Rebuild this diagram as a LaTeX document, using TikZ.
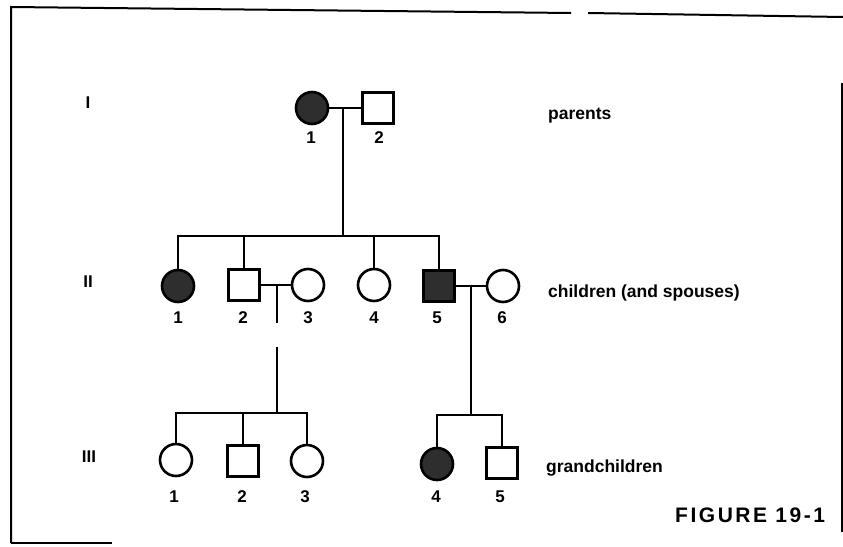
\documentclass[tikz,border=0pt]{standalone}
\usepackage{fontspec}
\setmainfont{Liberation Sans}
\begin{document}
\begin{tikzpicture}[x=1pt,y=-1pt,
  conn/.style={line width=2.6pt},
  person/.style={draw=black,line width=2.6pt,inner sep=0pt},
  fem/.style={person,circle,minimum size=32pt},
  mal/.style={person,rectangle,minimum size=31pt},
  aff/.style={fill=black!82},
  num/.style={anchor=base,inner sep=0pt,font=\bfseries\fontsize{17}{17}\selectfont},
  gen/.style={anchor=center,inner sep=0pt,font=\bfseries\fontsize{17}{17}\selectfont},
  lab/.style={anchor=base west,inner sep=0pt,font=\bfseries\fontsize{17.5}{18}\selectfont},
  frame/.style={line width=2pt}]
\useasboundingbox (0,0) rectangle (843,546);
% frame
\draw[frame] (11,543) -- (11,7) -- (571,13);
\draw[frame] (588,13) -- (843,17);
\draw[frame] (842,83) -- (842,532);
\draw[frame] (11,543) -- (112,543);
% generation labels
\node[gen] (gI) at (88,103) {I};
\node[gen] (gII) at (88,282) {II};
\node[gen] (gIII) at (89,457) {III};
% generation I
\node[fem,aff] (I1) at (312,108) {};
\node[mal] (I2) at (378,108) {};
\node[num] (nI1) at (311,143) {1};
\node[num] (nI2) at (379,143) {2};
\coordinate (mI) at (343,108);
\coordinate (sII) at (343,236);
\draw[conn] (I1) -- (I2);
\draw[conn] (mI) -- (sII);
% generation II
\node[fem,aff] (II1) at (178,286) {};
\node[mal] (II2) at (244,285) {};
\node[fem] (II3) at (308,285) {};
\node[fem] (II4) at (374,285) {};
\node[mal,aff] (II5) at (439,286) {};
\node[fem] (II6) at (503,286) {};
\node[num] (nII1) at (178,323) {1};
\node[num] (nII2) at (243,323) {2};
\node[num] (nII3) at (308,323) {3};
\node[num] (nII4) at (374,323) {4};
\node[num] (nII5) at (437,323) {5};
\node[num] (nII6) at (502,323) {6};
\draw[conn] (II1.north) -- (II1.north |- sII) -- (II5.north |- sII) -- (II5.north);
\draw[conn] (II2.north) -- (II2.north |- sII);
\draw[conn] (II4.north) -- (II4.north |- sII);
\draw[conn] (II2) -- (II3);
\draw[conn] (II5) -- (II6);
\coordinate (mII23) at (277,285);
\coordinate (bII23) at (277,323);
\coordinate (tIII) at (277,347);
\coordinate (sIIIa) at (277,413);
\coordinate (mII56) at (471,286);
\coordinate (sIIIb) at (471,415);
\draw[conn] (mII23) -- (bII23);
\draw[conn] (tIII) -- (sIIIa);
\draw[conn] (mII56) -- (sIIIb);
% generation III
\node[fem] (III1) at (176,460) {};
\node[mal] (III2) at (243,461) {};
\node[fem] (III3) at (307,461) {};
\node[fem,aff] (III4) at (437,464) {};
\node[mal] (III5) at (502,463) {};
\node[num] (nIII1) at (174,502) {1};
\node[num] (nIII2) at (242,502) {2};
\node[num] (nIII3) at (305,502) {3};
\node[num] (nIII4) at (436,502) {4};
\node[num] (nIII5) at (500,502) {5};
\draw[conn] (III1.north) -- (III1.north |- sIIIa) -- (III3.north |- sIIIa) -- (III3.north);
\draw[conn] (III2.north) -- (III2.north |- sIIIa);
\draw[conn] (III4.north) -- (III4.north |- sIIIb) -- (III5.north |- sIIIb) -- (III5.north);
% side labels
\node[lab] (tp) at (548,119) {parents};
\node[lab] (tc) at (548,297) {children (and spouses)};
\node[lab] (tg) at (546,472) {grandchildren};
\node[lab,font=\bfseries\fontsize{21}{22}\selectfont\addfontfeatures{LetterSpace=12}] (tf) at (675,522) {FIGURE 19-1};
\end{tikzpicture}
\end{document}
